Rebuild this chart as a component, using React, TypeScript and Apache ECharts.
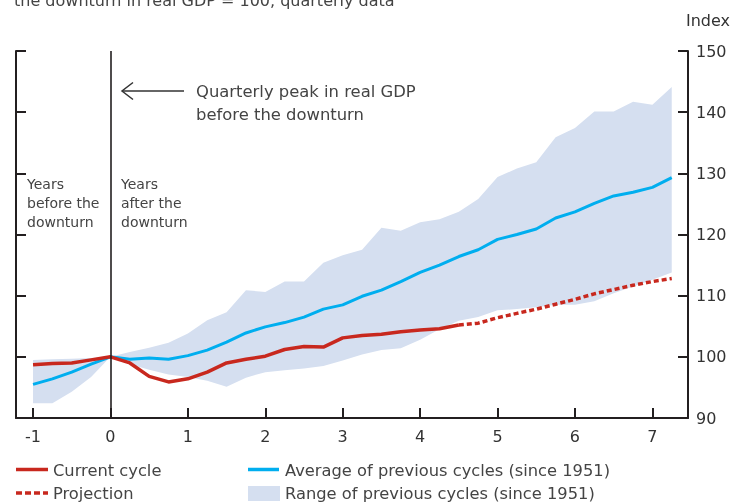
import React, { useEffect, useRef } from "react";
import * as echarts from "echarts";

// Quarters relative to the pre-downturn GDP peak (years)
const quarters = [
  -1, -0.75, -0.5, -0.25, 0, 0.25, 0.5, 0.75, 1, 1.25, 1.5, 1.75, 2, 2.25, 2.5, 2.75, 3,
  3.25, 3.5, 3.75, 4, 4.25, 4.5, 4.75, 5, 5.25, 5.5, 5.75, 6, 6.25, 6.5, 6.75, 7, 7.25,
];

const rangeUpper = [
  99.5, 99.6, 99.7, 99.8, 100, 100.8, 101.5, 102.3, 103.8, 106.0, 107.3, 110.9, 110.6, 112.3,
  112.3, 115.4, 116.6, 117.5, 121.1, 120.6, 122.0, 122.5, 123.7, 125.8, 129.4, 130.8, 131.8,
  135.9, 137.4, 140.1, 140.1, 141.7, 141.2, 144.1,
];

const rangeLower = [
  92.4, 92.4, 94.3, 96.7, 100, 98.8, 97.9, 97.1, 96.7, 96.1, 95.1, 96.6, 97.5, 97.8, 98.1, 98.5,
  99.4, 100.4, 101.1, 101.4, 102.8, 104.5, 105.9, 106.5, 107.6, 107.8, 108.1, 108.5, 108.5,
  109.1, 110.4, 111.5, 112.6, 113.8,
];

const averagePrevious = [
  95.5, 96.4, 97.5, 98.8, 100, 99.6, 99.8, 99.6, 100.2, 101.1, 102.4, 103.9, 104.9, 105.6, 106.5,
  107.8, 108.5, 109.9, 110.9, 112.3, 113.8, 115.0, 116.4, 117.5, 119.2, 120.0, 120.9, 122.7,
  123.7, 125.1, 126.3, 126.9, 127.7, 129.3,
];

// Current cycle: -1 .. 4.5
const currentCycle = [
  98.7, 98.9, 99.0, 99.5, 100, 99.0, 96.8, 95.9, 96.4, 97.5, 99.0, 99.6, 100.1, 101.2, 101.7,
  101.6, 103.1, 103.5, 103.7, 104.1, 104.4, 104.6, 105.2,
];

// Projection: 4.5 .. 7.25
const projection = [105.2, 105.5, 106.4, 107.1, 107.8, 108.6, 109.4, 110.3, 111.0, 111.7, 112.3, 112.8];

const xTicks = [-1, 0, 1, 2, 3, 4, 5, 6, 7];
const yMin = 90;
const yMax = 150;
const yStep = 10;

const RED = "#c8281e";
const BLUE = "#00aeef";
const BAND = "#d5dff0";
const AXIS = "#231f20";
const TEXT = "#444444";
const FONT = "DejaVu Sans";

export default function App() {
  const ref = useRef<HTMLDivElement>(null);

  useEffect(() => {
    const chart = echarts.init(ref.current!, null, { renderer: "svg" });
    const zip = (xs: number[], ys: number[]) => ys.map((v, i) => [xs[i], v]);
    const currentX = quarters.slice(0, currentCycle.length);
    const projX = quarters.slice(currentCycle.length - 1, currentCycle.length - 1 + projection.length);
    const bandData = quarters.map((q, i) => [q, rangeLower[i], rangeUpper[i]]);

    const yAxisBase = {
      type: "value",
      min: yMin,
      max: yMax,
      interval: yStep,
      splitLine: { show: false },
      axisLine: { show: true, onZero: false, lineStyle: { color: AXIS, width: 2 } },
      axisTick: { show: true, inside: true, length: 10, lineStyle: { color: AXIS, width: 2 } },
    };

    const option: any = {
      animation: false,
      textStyle: { fontFamily: FONT },
      grid: { left: 16, right: 52, top: 51, bottom: 86, containLabel: false },
      xAxis: {
        type: "value",
        min: -1.22,
        max: 7.46,
        splitLine: { show: false },
        axisLine: { show: true, onZero: false, lineStyle: { color: AXIS, width: 2 } },
        axisTick: {
          show: true,
          inside: true,
          length: 10,
          customValues: xTicks,
          lineStyle: { color: AXIS, width: 2 },
        },
        axisLabel: {
          show: true,
          customValues: xTicks,
          margin: 10,
          color: "#333",
          fontSize: 16,
          fontFamily: FONT,
          formatter: (v: number) => String(v),
        },
      },
      yAxis: [
        { ...yAxisBase, position: "left", axisLabel: { show: false } },
        {
          ...yAxisBase,
          position: "right",
          axisLabel: { show: true, margin: 8, color: "#333", fontSize: 16, fontFamily: FONT },
        },
      ],
      series: [
        {
          name: "Range of previous cycles (since 1951)",
          type: "custom",
          yAxisIndex: 1,
          silent: true,
          z: 1,
          data: bandData,
          encode: { x: 0, y: [1, 2] },
          renderItem: (params: any, api: any) => {
            if (params.dataIndex !== 0) return null;
            const top = bandData.map((d) => api.coord([d[0], d[2]]));
            const bottom = bandData
              .slice()
              .reverse()
              .map((d) => api.coord([d[0], d[1]]));
            return {
              type: "polygon",
              shape: { points: top.concat(bottom) },
              style: { fill: BAND, stroke: null },
            };
          },
        },
        {
          name: "Average of previous cycles (since 1951)",
          type: "line",
          yAxisIndex: 1,
          symbol: "none",
          data: zip(quarters, averagePrevious),
          lineStyle: { color: BLUE, width: 3 },
          z: 3,
          markLine: {
            silent: true,
            symbol: "none",
            label: { show: false },
            lineStyle: { color: AXIS, width: 1.6, type: "solid" },
            data: [{ xAxis: 0 }],
          },
        },
        {
          name: "Current cycle",
          type: "line",
          yAxisIndex: 1,
          symbol: "none",
          data: zip(currentX, currentCycle),
          lineStyle: { color: RED, width: 3.5 },
          z: 4,
        },
        {
          name: "Projection",
          type: "line",
          yAxisIndex: 1,
          symbol: "none",
          data: zip(projX, projection),
          lineStyle: { color: RED, width: 3.5, type: [5, 3] },
          z: 4,
        },
      ],
      graphic: [
        {
          type: "text",
          left: 14,
          top: -8,
          style: {
            text: "the downturn in real GDP = 100, quarterly data",
            fill: TEXT,
            fontSize: 16,
            fontFamily: FONT,
          },
        },
        {
          type: "text",
          x: 730,
          y: 20,
          style: {
            text: "Index",
            fill: "#333",
            fontSize: 16,
            fontFamily: FONT,
            align: "right",
            verticalAlign: "middle",
          },
        },
        {
          type: "text",
          x: 27,
          y: 174,
          style: {
            text: "Years\nbefore the\ndownturn",
            fill: TEXT,
            fontSize: 14,
            lineHeight: 19,
            fontFamily: FONT,
          },
        },
        {
          type: "text",
          x: 121,
          y: 174,
          style: {
            text: "Years\nafter the\ndownturn",
            fill: TEXT,
            fontSize: 14,
            lineHeight: 19,
            fontFamily: FONT,
          },
        },
        {
          type: "line",
          shape: { x1: 122, y1: 91, x2: 184, y2: 91 },
          style: { stroke: "#333", lineWidth: 1.5 },
        },
        {
          type: "polyline",
          shape: { points: [[133, 82.5], [122, 91], [133, 99.5]] },
          style: { stroke: "#333", lineWidth: 1.5, fill: "none" },
        },
        {
          type: "text",
          x: 196,
          y: 80,
          style: {
            text: "Quarterly peak in real GDP\nbefore the downturn",
            fill: TEXT,
            fontSize: 16.4,
            lineHeight: 23,
            fontFamily: FONT,
          },
        },
        // Legend
        {
          type: "line",
          shape: { x1: 16, y1: 469.5, x2: 48, y2: 469.5 },
          style: { stroke: RED, lineWidth: 3.5 },
        },
        {
          type: "text",
          x: 53,
          y: 470.5,
          style: { text: "Current cycle", fill: TEXT, fontSize: 16.3, fontFamily: FONT, verticalAlign: "middle" },
        },
        {
          type: "line",
          shape: { x1: 16, y1: 493, x2: 48, y2: 493 },
          style: { stroke: RED, lineWidth: 3.5, lineDash: [6, 3] },
        },
        {
          type: "text",
          x: 53,
          y: 493.5,
          style: { text: "Projection", fill: TEXT, fontSize: 16.3, fontFamily: FONT, verticalAlign: "middle" },
        },
        {
          type: "line",
          shape: { x1: 248, y1: 469.5, x2: 279, y2: 469.5 },
          style: { stroke: BLUE, lineWidth: 3.5 },
        },
        {
          type: "text",
          x: 285,
          y: 470.5,
          style: {
            text: "Average of previous cycles (since 1951)",
            fill: TEXT,
            fontSize: 16.3,
            fontFamily: FONT,
            verticalAlign: "middle",
          },
        },
        {
          type: "rect",
          shape: { x: 248, y: 486, width: 32, height: 15 },
          style: { fill: BAND },
        },
        {
          type: "text",
          x: 285,
          y: 493.5,
          style: {
            text: "Range of previous cycles (since 1951)",
            fill: TEXT,
            fontSize: 16.3,
            fontFamily: FONT,
            verticalAlign: "middle",
          },
        },
      ],
    };

    chart.setOption(option);
    return () => chart.dispose();
  }, []);

  return (
    <div
      ref={ref}
      style={{ position: "fixed", left: 0, top: 0, width: 740, height: 504 }}
    />
  );
}
